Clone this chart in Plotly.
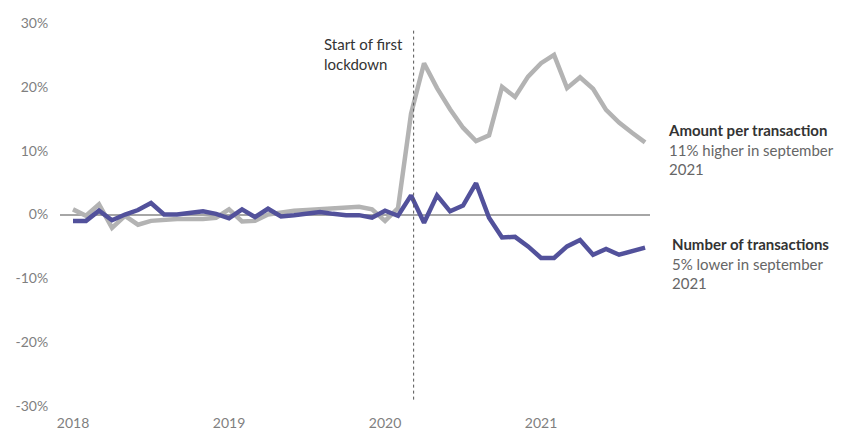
import pandas as pd
import plotly.graph_objects as go

months = pd.date_range("2018-01-01", periods=45, freq="MS").strftime("%Y-%m").tolist()

amount_per_transaction = [
    0.8, -0.2, 1.6, -2.1, -0.2, -1.6, -1.0, -0.8, -0.7, -0.7, -0.7, -0.5,
    0.8, -1.1, -1.0, 0.0, 0.3, 0.6, 0.7, 0.8, 0.9, 1.1, 1.2, 0.8,
    -1.0, 1.0, 15.8, 23.7, 19.8, 16.5, 13.6, 11.5, 12.4, 20.0, 18.4, 21.6,
    23.7, 25.0, 19.8, 21.5, 19.7, 16.4, 14.4, 12.8, 11.3,
]
number_of_transactions = [
    -1.0, -1.0, 0.6, -0.9, 0.0, 0.7, 1.8, 0.0, 0.0, 0.2, 0.5, 0.1,
    -0.6, 0.8, -0.4, 0.9, -0.3, -0.1, 0.1, 0.4, 0.1, -0.1, -0.1, -0.5,
    0.6, -0.2, 3.0, -1.3, 3.0, 0.5, 1.4, 4.9, -0.5, -3.6, -3.5, -5.0,
    -6.8, -6.8, -5.0, -4.0, -6.3, -5.4, -6.3, -5.7, -5.2,
]
year_ticks = ["2018", "2019", "2020", "2021"]
y_ticks = [-30, -20, -10, 0, 10, 20, 30]
lockdown_month = "2020-03"

x = list(range(len(months)))
tick_pos = [months.index(f"{y}-01") for y in year_ticks]
lock_x = months.index(lockdown_month) + 0.2

GRAY = "#b3b3b3"
BLUE = "#52519b"
FONT = "Lato"

fig = go.Figure()
fig.add_trace(go.Scatter(x=x, y=amount_per_transaction, mode="lines",
                         line=dict(color=GRAY, width=4.5), name="Amount per transaction"))
fig.add_trace(go.Scatter(x=x, y=number_of_transactions, mode="lines",
                         line=dict(color=BLUE, width=4.5), name="Number of transactions"))

fig.add_shape(type="line", xref="x", yref="y", x0=lock_x, x1=lock_x, y0=-29, y1=28.8,
              line=dict(color="#555555", width=1, dash="3px,3px"))

fig.add_annotation(xref="paper", yref="paper", x=0.444, y=0.918, xanchor="left", yanchor="middle",
                   align="left", showarrow=False,
                   text="Start of first<br>lockdown",
                   font=dict(family=FONT, size=15, color="#333333"))
fig.add_annotation(xref="paper", yref="paper", x=1.027, y=0.671, xanchor="left", yanchor="middle",
                   align="left", showarrow=False,
                   text="<b>Amount per transaction</b><br><span style='color:#666666'>11% higher in september<br>2021</span>",
                   font=dict(family=FONT, size=15, color="#333333"))
fig.add_annotation(xref="paper", yref="paper", x=1.034, y=0.371, xanchor="left", yanchor="middle",
                   align="left", showarrow=False,
                   text="<b>Number of transactions</b><br><span style='color:#666666'>5% lower in september<br>2021</span>",
                   font=dict(family=FONT, size=15, color="#333333"))

fig.update_layout(
    width=851, height=435,
    margin=dict(l=60, r=201, t=23, b=29),
    paper_bgcolor="white", plot_bgcolor="white",
    showlegend=False,
    font=dict(family=FONT, size=14, color="#7f7f7f"),
    xaxis=dict(range=[-1.0, 44.38], tickvals=tick_pos, ticktext=year_ticks,
               showgrid=False, zeroline=False, showline=False, automargin=False,
               ticks="outside", ticklen=4, tickcolor="rgba(0,0,0,0)"),
    yaxis=dict(range=[-30, 30], tickvals=y_ticks, ticktext=[f"{v}%" for v in y_ticks],
               showgrid=False, zeroline=True, zerolinecolor="#a6a6a6", zerolinewidth=2,
               showline=False, automargin=False,
               ticks="outside", ticklen=8, tickcolor="rgba(0,0,0,0)"),
)

fig.write_html("out.html")
